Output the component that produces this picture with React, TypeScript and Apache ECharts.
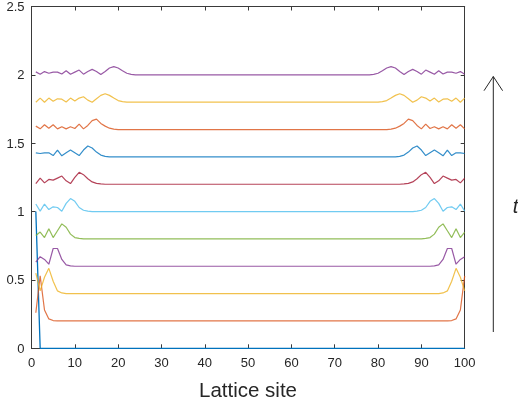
import React, { useEffect, useRef } from "react";
import * as echarts from "echarts";

// Lattice sites 1..100
const siteCount = 100;
const xTicks = [0, 10, 20, 30, 40, 50, 60, 70, 80, 90, 100];
const yTicks = [0, 0.5, 1, 1.5, 2, 2.5];

// Vertical offset of each time step
const offsets = [0, 0.2, 0.4, 0.6, 0.8, 1.0, 1.2, 1.4, 1.6, 1.8, 2.0];

// Profiles: value above the offset, starting at site 1.
// The pattern is symmetric about site 1 on a ring (site k mirrors site 102-k).
const step0 = [1];
const step1 = [0.06, 0.33, 0.08, 0.015, 0.003];
const step2 = [0.15, 0.02, 0.12, 0.185, 0.09, 0.02, 0.005];
const step3 = [0.03, 0.07, 0.05, 0.015, 0.13, 0.13, 0.05, 0.01, 0.003];
const step4 = [0.025, 0.05, 0.01, 0.075, 0.01, 0.06, 0.11, 0.085, 0.035, 0.01, 0.004];
const step5 = [0.055, 0.003, 0.055, 0.015, 0.035, 0.03, 0.002, 0.06, 0.095, 0.075, 0.03, 0.01, 0.003];
const step6 = [0.005, 0.045, 0.01, 0.035, 0.03, 0.045, 0.06, 0.025, 0.005, 0.05, 0.087, 0.07, 0.04, 0.017, 0.006, 0.002];
const step7 = [0.03, 0.025, 0.03, 0.03, 0.01, 0.05, 0.008, 0.03, 0.05, 0.03, 0.01, 0.05, 0.08, 0.065, 0.035, 0.013, 0.004];
const step8 = [0.025, 0.005, 0.035, 0.01, 0.035, 0.005, 0.02, 0.005, 0.02, 0.008, 0.04, 0.005, 0.03, 0.065, 0.076, 0.045, 0.025, 0.01, 0.003];
const step9 = [0.0, 0.03, 0.0, 0.03, 0.007, 0.025, 0.022, 0.002, 0.03, 0.008, 0.03, 0.04, 0.015, 0.0, 0.025, 0.05, 0.062, 0.05, 0.03, 0.012, 0.004, 0.001];
const step10 = [0.022, 0.005, 0.024, 0.012, 0.02, 0.02, 0.006, 0.03, 0.005, 0.02, 0.035, 0.005, 0.025, 0.04, 0.025, 0.003, 0.025, 0.05, 0.06, 0.05, 0.03, 0.012, 0.004];

const profiles = [step0, step1, step2, step3, step4, step5, step6, step7, step8, step9, step10];

const colors = [
  "#0072BD", "#D95319", "#EDB120", "#7E2F8E", "#77AC30", "#4DBEEE",
  "#A2142F", "#0072BD", "#D95319", "#EDB120", "#7E2F8E",
];

const FONT = "'Liberation Sans', Arial, Helvetica, sans-serif";
const AXIS = "#262626";

function buildSeries(profile: number[], offset: number) {
  const out: number[][] = [];
  for (let s = 1; s <= siteCount; s++) {
    const idx = s <= 51 ? s - 1 : 101 - s;
    const v = profile[idx] ?? 0;
    out.push([s, offset + v]);
  }
  return out;
}

export default function App() {
  const ref = useRef<HTMLDivElement>(null);
  useEffect(() => {
    if (!ref.current) return;
    const chart = echarts.init(ref.current, undefined, { renderer: "svg" });
    const axisCommon = {
      axisLine: { show: true, onZero: false, lineStyle: { color: "#3a3a3a", width: 1 } },
      axisTick: { show: true, inside: true, length: 4, lineStyle: { color: "#3a3a3a", width: 1 } },
      splitLine: { show: false },
    };
    chart.setOption({
      animation: false,
      grid: { left: 31.5, right: 53.3, top: 6, bottom: 55.7, containLabel: false },
      xAxis: [
        {
          type: "value", min: xTicks[0], max: xTicks[xTicks.length - 1], interval: 10,
          position: "bottom", ...axisCommon,
          axisLabel: { show: true, color: AXIS, fontSize: 13, fontFamily: FONT, margin: 8 },
        },
        {
          type: "value", min: xTicks[0], max: xTicks[xTicks.length - 1], interval: 10,
          position: "top", ...axisCommon, axisLabel: { show: false },
        },
      ],
      yAxis: [
        {
          type: "value", min: yTicks[0], max: yTicks[yTicks.length - 1], interval: 0.5,
          position: "left", ...axisCommon,
          axisLabel: { show: true, color: AXIS, fontSize: 13, fontFamily: FONT, margin: 7 },
        },
        {
          type: "value", min: yTicks[0], max: yTicks[yTicks.length - 1], interval: 0.5,
          position: "right", ...axisCommon, axisLabel: { show: false },
        },
      ],
      series: profiles.map((p, i) => ({
        type: "line",
        data: buildSeries(p, offsets[i]),
        xAxisIndex: 0,
        yAxisIndex: 0,
        showSymbol: false,
        smooth: false,
        lineStyle: { color: colors[i], width: i === 0 ? 1.3 : 1.2, opacity: i === 0 ? 1 : 0.8 },
        itemStyle: { color: colors[i] },
        z: 2 + i,
      })),
      graphic: [
        {
          type: "text", x: 248, y: 389,
          style: { text: "Lattice site", fontSize: 20.5, fontFamily: FONT, fill: AXIS, align: "center", verticalAlign: "middle" },
        },
        { type: "line", shape: { x1: 493.3, y1: 332, x2: 493.3, y2: 76.5 }, style: { stroke: AXIS, lineWidth: 1 } },
        { type: "line", shape: { x1: 493.3, y1: 76.5, x2: 484, y2: 90.7 }, style: { stroke: AXIS, lineWidth: 1 } },
        { type: "line", shape: { x1: 493.3, y1: 76.5, x2: 502.6, y2: 90.7 }, style: { stroke: AXIS, lineWidth: 1 } },
        {
          type: "text", x: 515.5, y: 205.5,
          style: { text: "t", fontSize: 20, fontStyle: "italic", fontFamily: FONT, fill: AXIS, align: "center", verticalAlign: "middle" },
        },
      ],
    });
    return () => chart.dispose();
  }, []);
  return <div ref={ref} style={{ position: "fixed", left: 0, top: 0, width: 518, height: 404 }} />;
}
